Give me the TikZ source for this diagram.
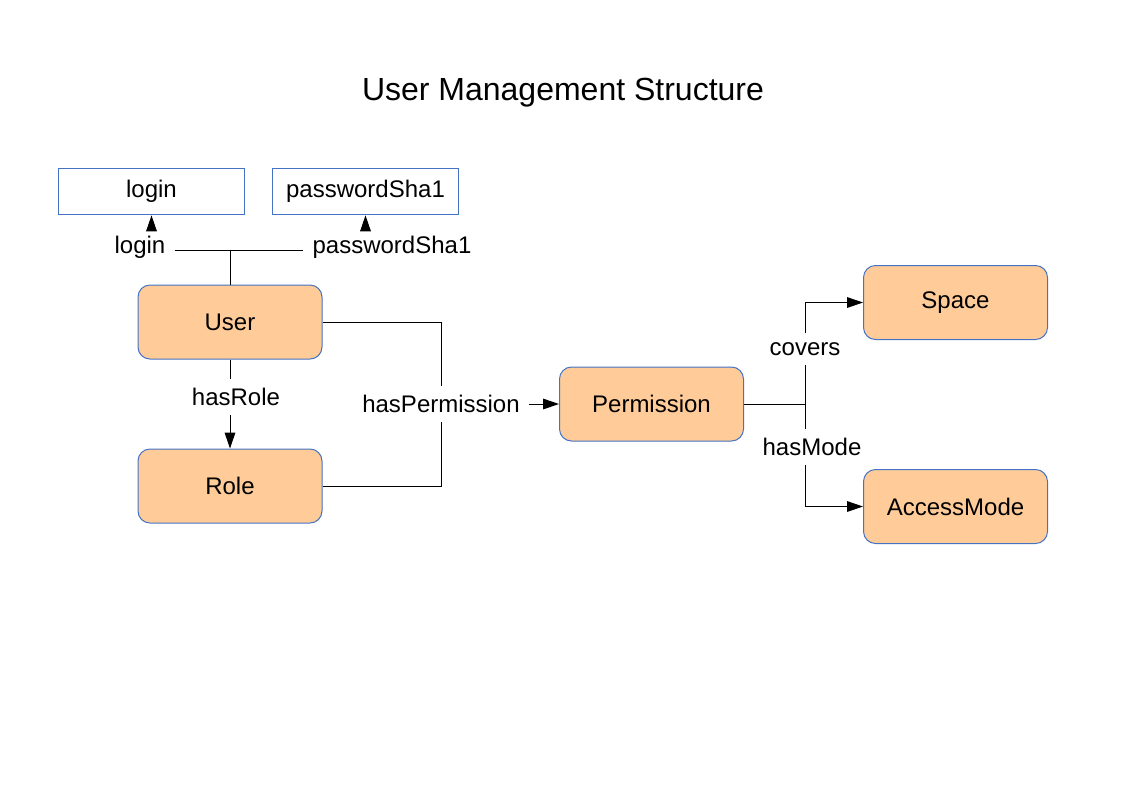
\documentclass[tikz,border=0pt]{standalone}
\usepackage{fontspec}
\setmainfont{Liberation Sans}
\usetikzlibrary{arrows.meta}

\definecolor{boxfill}{HTML}{FFCC99}
\definecolor{boxblue}{HTML}{4472C4}

\tikzset{
  entity/.style={draw=boxblue, fill=boxfill, rounded corners=9pt,
    minimum width=138pt, minimum height=55.5pt, font=\fontsize{18}{21}\selectfont},
  attrbox/.style={draw=boxblue, fill=white, minimum width=140pt,
    minimum height=35pt, font=\fontsize{18}{21}\selectfont},
  rel/.style={font=\fontsize{18}{21}\selectfont, inner sep=6.5pt},
  >={Triangle[length=12pt,width=8pt]}
}

\begin{document}
\begin{tikzpicture}[x=0.75pt, y=-0.75pt, line width=0.75pt]
\useasboundingbox (0,0) rectangle (1123,794);

\node[font=\fontsize{24}{28}\selectfont] (title) at (563,93) {User Management Structure};

% attribute boxes
\node[attrbox] (loginbox) at (151.5,191.5) {login};
\node[attrbox] (pwbox) at (365.5,191.5) {passwordSha1};

% entities
\node[entity] (user) at (230,322) {User};
\node[entity] (role) at (230,486) {Role};
\node[entity] (perm) at (651.5,404) {Permission};
\node[entity] (space) at (955.5,302.5) {Space};
\node[entity] (mode) at (955.5,506.5) {AccessMode};

% relation labels
\node[rel] (loginlbl) at (140,247) {login};
\node[rel] (pwlbl) at (392,247) {passwordSha1};
\node[rel] (hasrole) at (236,397) {hasRole};
\node[rel] (hasperm) at (441,404) {hasPermission};
\node[rel] (covers) at (805,349) {covers};
\node[rel] (hasmode) at (812,447) {hasMode};

\coordinate (attrjoin) at (230,250);
\coordinate (permjoin) at (805,404);

% user attributes
\draw (user.north) -- (attrjoin);
\draw (loginlbl.east |- attrjoin) -- (pwlbl.west |- attrjoin);
\draw[->] (loginbox.south |- loginlbl.north) -- (loginbox.south);
\draw[->] (pwbox.south |- pwlbl.north) -- (pwbox.south);

% user to role
\draw (user.south) -- (hasrole.north -| user.south);
\draw[->] (hasrole.south -| role.north) -- (role.north);

% permissions
\draw (user.east) -| (hasperm.north);
\draw (role.east) -| (hasperm.south);
\draw[->] (hasperm.east) -- (perm.west);

\draw (perm.east) -- (permjoin);
\draw (covers.south) -- (permjoin) -- (hasmode.north -| permjoin);
\draw[->] (covers.north) |- (space.west);
\draw[->] (hasmode.south -| permjoin) |- (mode.west);
\end{tikzpicture}
\end{document}
